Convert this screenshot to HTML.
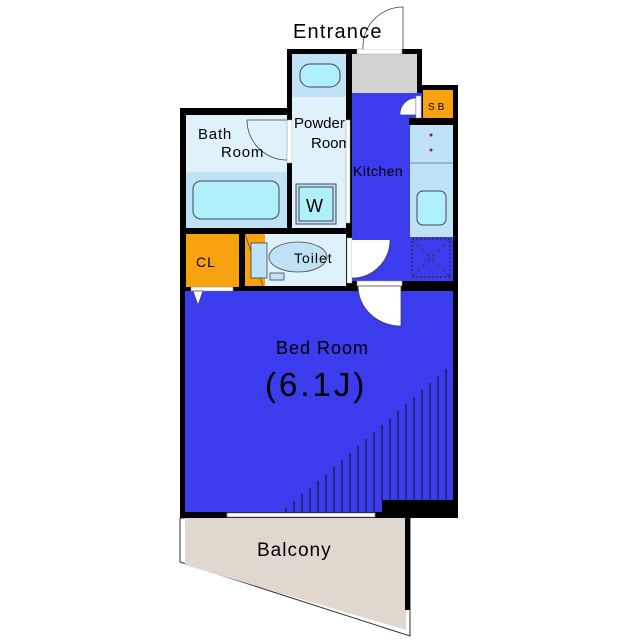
<!DOCTYPE html>
<html><head><meta charset="utf-8"><style>html,body{margin:0;padding:0;background:#fff}svg{display:block}</style></head><body>
<svg width="640" height="640" viewBox="0 0 640 640" xmlns="http://www.w3.org/2000/svg" font-family="Liberation Sans, DejaVu Sans, sans-serif">
<polygon points="180,518 410,518 410,636 180,562" fill="#fff" stroke="#333" stroke-width="1"/>
<polygon points="185,518 406,518 406,630 185,565" fill="#e0d8cf"/>
<rect x="405" y="516" width="5" height="94" fill="#000"/>
<rect x="180" y="108" width="172" height="183" fill="#000"/>
<rect x="287" y="49" width="135" height="60" fill="#000"/>
<rect x="346" y="85" width="112" height="206" fill="#000"/>
<rect x="180" y="283" width="278" height="235" fill="#000"/>
<rect x="185" y="291" width="268" height="221" fill="#3b3ced"/>
<rect x="382" y="500" width="76" height="18" fill="#000"/>
<g stroke="#111" stroke-width="1">
<line x1="286" y1="512" x2="286" y2="508"/><line x1="294" y1="512" x2="294" y2="501"/><line x1="302" y1="512" x2="302" y2="494"/><line x1="310" y1="512" x2="310" y2="488"/><line x1="318" y1="512" x2="318" y2="481"/><line x1="326" y1="512" x2="326" y2="474"/><line x1="334" y1="512" x2="334" y2="467"/><line x1="342" y1="512" x2="342" y2="460"/><line x1="350" y1="512" x2="350" y2="453"/><line x1="358" y1="512" x2="358" y2="446"/><line x1="366" y1="512" x2="366" y2="439"/><line x1="374" y1="512" x2="374" y2="432"/><line x1="382" y1="500" x2="382" y2="425"/><line x1="390" y1="500" x2="390" y2="418"/><line x1="398" y1="500" x2="398" y2="411"/><line x1="406" y1="500" x2="406" y2="404"/><line x1="414" y1="500" x2="414" y2="397"/><line x1="422" y1="500" x2="422" y2="390"/><line x1="430" y1="500" x2="430" y2="383"/><line x1="438" y1="500" x2="438" y2="376"/><line x1="446" y1="500" x2="446" y2="369"/>
</g>
<rect x="227" y="513" width="148" height="4" fill="#fff" stroke="#888" stroke-width="0.7"/>
<rect x="186" y="115" width="101" height="57" fill="#dff2fb"/>
<rect x="186" y="172" width="101" height="56" fill="#bfe2f6"/>
<rect x="193" y="181" width="86" height="38" rx="8" fill="#b0f0fa" stroke="#445" stroke-width="1"/>
<path d="M247,120 A40,40 0 0 0 287,160" fill="none" stroke="#444" stroke-width="0.8"/>
<line x1="247" y1="120" x2="287" y2="120" stroke="#444" stroke-width="0.8"/>
<rect x="287" y="120" width="5" height="43" fill="#fff" stroke="#888" stroke-width="0.5"/>
<text x="198" y="139" font-size="15" letter-spacing="0.8">Bath</text><text x="221" y="157" font-size="15" letter-spacing="0.8">Room</text>
<rect x="292" y="54" width="54" height="43" fill="#bfe2f6"/>
<rect x="292" y="97" width="54" height="131" fill="#dff2fb"/>
<rect x="300" y="64" width="40" height="23" rx="10" fill="#b0f0fa" stroke="#445"/>
<rect x="296" y="184" width="40" height="40" fill="#bfe2f6" stroke="#445"/>
<rect x="299" y="187" width="34" height="34" fill="#b0f0fa" stroke="#445"/>
<text x="306" y="212" font-size="18">W</text>
<text x="294" y="128" font-size="15">Powder</text><text x="311" y="148" font-size="15">Room</text>
<rect x="346" y="120" width="4" height="103" fill="#fff" stroke="#999" stroke-width="0.5"/>
<rect x="352" y="54" width="65" height="39" fill="#d3d3d3"/>
<rect x="357" y="49" width="45" height="5" fill="#fff" stroke="#999" stroke-width="0.5"/>
<path d="M363,49 A40,40 0 0 1 403,7 L403,49" fill="#fff" stroke="#444" stroke-width="0.8"/>
<text x="293" y="38" font-size="20" letter-spacing="1.2">Entrance</text>
<rect x="352" y="93" width="58" height="188" fill="#3b3ced"/>
<rect x="410" y="237" width="43" height="44" fill="#3b3ced"/>
<rect x="409" y="118" width="44" height="7" fill="#000"/>
<rect x="402" y="93" width="20" height="25" fill="#3b3ced"/>
<path d="M400,115 A16,16 0 0 1 416,98 L416,115 Z" fill="#fff" stroke="#444" stroke-width="0.8"/>
<rect x="416" y="96" width="5" height="22" fill="#fff" stroke="#999" stroke-width="0.5"/>
<rect x="423" y="90" width="30" height="28" fill="#f7a20f"/>
<text x="428" y="110" font-size="10" letter-spacing="3">SB</text>
<rect x="410" y="125" width="43" height="112" fill="#bfe2f6"/>
<line x1="410" y1="163" x2="453" y2="163" stroke="#667" stroke-width="0.8"/>
<circle cx="431" cy="135" r="1.5" fill="#733"/><circle cx="431" cy="150" r="1.5" fill="#733"/>
<rect x="417" y="191" width="29" height="34" rx="6" fill="#b0f0fa" stroke="#445"/>
<rect x="412" y="239" width="38" height="38" fill="none" stroke="#222" stroke-dasharray="2,2"/>
<line x1="412" y1="239" x2="450" y2="277" stroke="#334" stroke-dasharray="4,3"/><line x1="450" y1="239" x2="412" y2="277" stroke="#334" stroke-dasharray="4,3"/>
<text x="353" y="176" font-size="14" letter-spacing="0.5">Kitchen</text>
<rect x="186" y="234" width="53" height="53" fill="#f7a20f"/>
<text x="196" y="267" font-size="14" letter-spacing="1">CL</text>
<rect x="191" y="287" width="42" height="4" fill="#fff" stroke="#888" stroke-width="0.5"/>
<polygon points="193,291 203,291 198,305" fill="#fff" stroke="#444" stroke-width="0.7"/>
<rect x="245" y="234" width="101" height="52" fill="#dff2fb"/>
<rect x="245" y="234" width="20" height="52" fill="#f7a20f"/>
<line x1="245" y1="234" x2="263" y2="286" stroke="#444" stroke-width="0.7"/>
<rect x="251" y="243" width="16" height="35" fill="#bfe2f6" stroke="#445" stroke-width="0.8"/>
<ellipse cx="298" cy="257" rx="29" ry="15" fill="#bfe2f6" stroke="#445" stroke-width="0.8"/>
<rect x="270" y="273" width="14" height="7" fill="#bfe2f6" stroke="#445" stroke-width="0.8"/>
<text x="294" y="263" font-size="14" letter-spacing="1">Toilet</text>
<rect x="347" y="238" width="5" height="45" fill="#fff" stroke="#999" stroke-width="0.5"/>
<path d="M352,240 L390,240 A38,38 0 0 1 352,278 Z" fill="#fff"/>
<path d="M390,240 A38,38 0 0 1 352,278" fill="none" stroke="#444" stroke-width="0.8"/>
<rect x="357" y="281" width="45" height="5" fill="#fff" stroke="#999" stroke-width="0.5"/>
<path d="M358,286 A43,40 0 0 0 401,326 L401,286 Z" fill="#fff" stroke="#444" stroke-width="0.8"/>
<text x="276" y="354" font-size="18" letter-spacing="1">Bed Room</text>
<text x="265" y="396" font-size="33" letter-spacing="3">(6.1J)</text>
<text x="257" y="556" font-size="19" letter-spacing="1">Balcony</text>
</svg>
</body></html>
